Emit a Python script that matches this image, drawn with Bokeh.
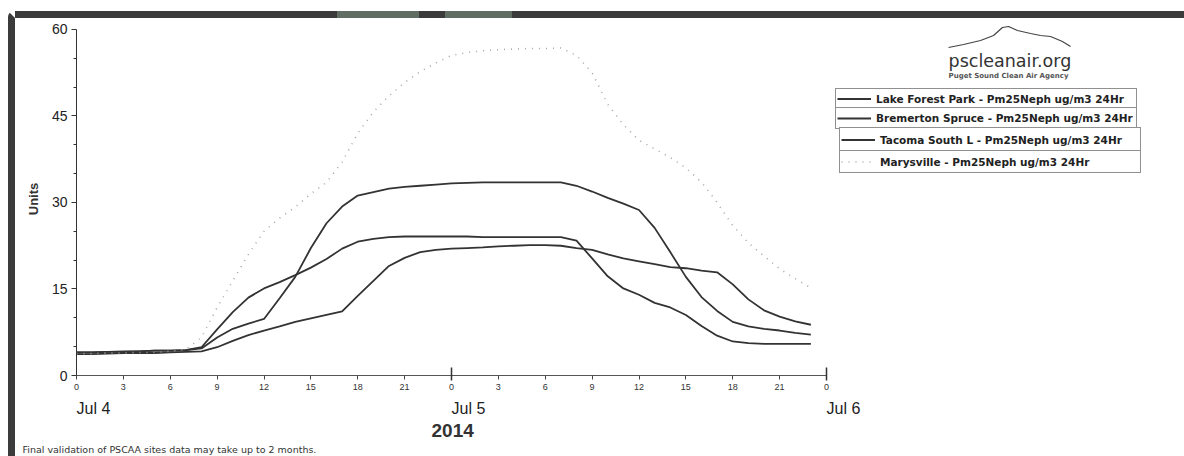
from bokeh.plotting import figure
from bokeh.models import (Range1d, FixedTicker, Legend, LegendItem, Label, LinearAxis, Title)
from bokeh.embed import file_html
from bokeh.resources import INLINE

# ---------------- data (hourly, Jul 4 00:00 .. Jul 5 23:00, 2014) ----------------
hours = list(range(48))
lake_forest = [4.0, 4.0, 4.1, 4.2, 4.2, 4.3, 4.3, 4.4, 4.7, 6.6, 8.1, 9.0, 9.8, 13.4, 17.1, 22.1,
               26.4, 29.3, 31.2, 31.8, 32.4, 32.7, 32.9, 33.1, 33.3, 33.4, 33.5, 33.5, 33.5, 33.5, 33.5, 33.5,
               32.9, 31.9, 30.8, 29.8, 28.7, 25.6, 21.4, 17.1, 13.6, 11.2, 9.3, 8.5, 8.1, 7.8, 7.4, 7.1]
bremerton = [4.0, 4.0, 4.1, 4.1, 4.2, 4.3, 4.3, 4.4, 4.9, 8.0, 11.0, 13.5, 15.1, 16.2, 17.4, 18.7,
             20.2, 22.0, 23.2, 23.7, 24.0, 24.1, 24.1, 24.1, 24.1, 24.1, 24.0, 24.0, 24.0, 24.0, 24.0, 24.0,
             23.4, 20.3, 17.2, 15.1, 14.0, 12.6, 11.8, 10.5, 8.6, 6.9, 5.9, 5.6, 5.5, 5.5, 5.5, 5.5]
tacoma = [3.7, 3.7, 3.8, 3.9, 3.9, 3.9, 4.0, 4.1, 4.2, 4.9, 6.0, 7.0, 7.8, 8.5, 9.3, 9.9,
          10.5, 11.1, 13.8, 16.4, 19.0, 20.4, 21.4, 21.8, 22.0, 22.1, 22.2, 22.4, 22.5, 22.6, 22.6, 22.5,
          22.1, 21.8, 21.0, 20.3, 19.8, 19.3, 18.8, 18.6, 18.2, 17.9, 15.8, 13.2, 11.3, 10.2, 9.4, 8.8]
marysville = [3.8, 3.8, 3.9, 3.9, 4.0, 4.0, 4.2, 4.5, 6.6, 11.8, 16.4, 21.0, 25.0, 27.3, 29.2, 31.5,
              33.5, 37.0, 42.0, 45.7, 48.5, 50.8, 52.7, 54.2, 55.5, 56.0, 56.3, 56.5, 56.6, 56.7, 56.7, 56.8,
              55.5, 52.5, 47.0, 43.5, 40.8, 39.3, 37.8, 36.0, 33.5, 30.0, 26.0, 23.0, 20.7, 18.5, 16.8, 15.2]

series_names = ["Lake Forest Park - Pm25Neph ug/m3 24Hr",
                "Bremerton Spruce - Pm25Neph ug/m3 24Hr",
                "Tacoma South L - Pm25Neph ug/m3 24Hr",
                "Marysville - Pm25Neph ug/m3 24Hr"]

hour_ticks = list(range(0, 49, 3))
hour_tick_labels = ["0", "3", "6", "9", "12", "15", "18", "21",
                    "0", "3", "6", "9", "12", "15", "18", "21", "0"]
day_ticks = [0, 24, 48]
day_labels = ["Jul 4", "Jul 5", "Jul 6"]
year_label = "2014"
footer_text = "Final validation of PSCAA sites data may take up to 2 months."
y_ticks = [0, 15, 30, 45, 60]
y_minor = [5, 10, 20, 25, 35, 40, 50, 55]

# logo outline (decoration)
logo_x = [55.81, 56.77, 57.86, 58.69, 59.26, 59.65, 60.22, 61.06, 61.70, 62.34, 63.10, 63.62]
logo_y = [56.88, 57.40, 58.09, 58.96, 60.34, 60.52, 59.82, 59.30, 58.96, 58.78, 57.92, 57.05]

# ---------------- figure ----------------
# element: page (8, 11), border-box 1176x445 incl. 7px border -> canvas origin on page (15, 18)
X_END = (1176 - 61) / 15.625
p = figure(width=1176, height=445,
           x_range=Range1d(0, X_END), y_range=Range1d(0, 61.21),
           output_backend="svg", toolbar_location=None,
           min_border_left=61, min_border_right=0, min_border_top=4, min_border_bottom=88)
p.margin = (11, 0, 0, 8)
top_bar = ("linear-gradient(to right, #3b3b3b 0px, #3b3b3b 329px, #5f6d62 329px, #5f6d62 411px, "
           "#3b3b3b 411px, #3b3b3b 437px, #5f6d62 437px, #5f6d62 504px, #3b3b3b 504px, #3b3b3b 100%)")
p.styles = {"border-top": "7px solid transparent", "border-left": "7px solid #3b3b3b",
            "border-top-left-radius": "6px",
            "background-image": top_bar, "background-size": "100% 7px",
            "background-repeat": "no-repeat", "background-origin": "border-box",
            "background-clip": "border-box", "background-position": "left top"}
p.xgrid.visible = False
p.ygrid.visible = False
p.outline_line_color = None
p.background_fill_color = "white"
p.border_fill_color = "white"

# y axis
ya = p.yaxis[0]
ya.ticker = FixedTicker(ticks=y_ticks, minor_ticks=y_minor)
ya.bounds = (0, 60)
ya.axis_line_color = "#333333"
ya.major_tick_line_color = "#333333"
ya.minor_tick_line_color = "#333333"
ya.major_tick_out = 5
ya.major_tick_in = 0
ya.minor_tick_out = 3
ya.minor_tick_in = 0
ya.major_label_text_font = "Liberation Sans"
ya.major_label_text_font_size = "14px"
ya.major_label_text_color = "#222222"
ya.major_label_standoff = 4
ya.axis_label = "Units"
ya.axis_label_text_font = "Liberation Sans"
ya.axis_label_text_font_style = "bold"
ya.axis_label_text_font_size = "13px"
ya.axis_label_text_color = "#333333"
ya.axis_label_standoff = 8

# x axis (hours)
xa = p.xaxis[0]
xa.ticker = FixedTicker(ticks=hour_ticks, minor_ticks=[24, 48])
xa.bounds = (0, 48)
xa.major_label_overrides = {t: lab for t, lab in zip(hour_ticks, hour_tick_labels)}
xa.axis_line_color = "#555555"
xa.major_tick_line_color = "#444444"
xa.minor_tick_line_color = "#333333"
xa.minor_tick_line_width = 1.5
xa.major_tick_out = 4
xa.major_tick_in = 0
xa.minor_tick_out = 5
xa.minor_tick_in = 8
xa.major_label_text_font = "Liberation Sans"
xa.major_label_text_font_size = "9px"
xa.major_label_text_color = "#333333"
xa.major_label_standoff = 3

# day axis: labels start at the day boundary (range shifted by half a label width)
half_label = 17 / 15.625
p.extra_x_ranges = {"days": Range1d(-half_label, X_END - half_label)}
da = LinearAxis(x_range_name="days", ticker=FixedTicker(ticks=day_ticks, minor_ticks=[]),
                major_label_overrides={t: lab for t, lab in zip(day_ticks, day_labels)})
da.axis_line_color = None
da.major_tick_line_color = None
da.minor_tick_line_color = None
da.major_tick_out = 0
da.major_tick_in = 0
da.minor_tick_out = 0
da.minor_tick_in = 0
da.major_label_standoff = 7
da.major_label_text_font = "Liberation Sans"
da.major_label_text_font_size = "16px"
da.major_label_text_color = "#222222"
p.add_layout(da, "below")

p.add_layout(Title(text=year_label, align="left", offset=355, standoff=4,
                   text_font="Liberation Sans", text_font_style="bold",
                   text_font_size="19px", text_color="#333333"), "below")
p.add_layout(Title(text=footer_text, align="left", offset=-54, standoff=7,
                   text_font="DejaVu Sans", text_font_style="normal",
                   text_font_size="9.5px", text_color="#333333"), "below")

# ---------------- lines ----------------
solid_color = "#333333"
r1 = p.line(hours, lake_forest, line_color=solid_color, line_width=1.8)
r2 = p.line(hours, bremerton, line_color=solid_color, line_width=1.8)
r3 = p.line(hours, tacoma, line_color=solid_color, line_width=1.8)
r4 = p.line(hours, marysville, line_color="#a8a8a8", line_width=1.6, line_dash="1 6")
renderers = [r1, r2, r3, r4]

# ---------------- legend (each row boxed) ----------------
row_locs = [(759, 266), (759, 246), (763, 223), (763, 202)]
row_heights = [19, 20, 23, 21]
for name, rend, loc, hgt in zip(series_names, renderers, row_locs, row_heights):
    leg = Legend(items=[LegendItem(label=name, renderers=[rend])], location=loc,
                 padding=1, margin=0, spacing=0,
                 glyph_width=34, glyph_height=hgt - 2, label_height=hgt - 2, label_width=259,
                 label_standoff=5,
                 label_text_font="DejaVu Sans", label_text_font_style="bold",
                 label_text_font_size="10.5px", label_text_color="#222222",
                 border_line_color="#222222", border_line_width=1.2,
                 background_fill_color="white", background_fill_alpha=1.0)
    p.add_layout(leg)

# ---------------- logo ----------------
p.line(logo_x, logo_y, line_color="#444444", line_width=1.2)
p.add_layout(Label(x=55.81, y=54.5, text="pscleanair.org", text_font="DejaVu Sans",
                   text_font_size="17.5px", text_color="#333333", text_baseline="alphabetic"))
p.add_layout(Label(x=55.81, y=52.0, text="Puget Sound Clean Air Agency", text_font="DejaVu Sans",
                   text_font_style="bold", text_font_size="7px", text_color="#555555",
                   text_baseline="alphabetic"))

open("out.html", "w").write(file_html(p, INLINE))
